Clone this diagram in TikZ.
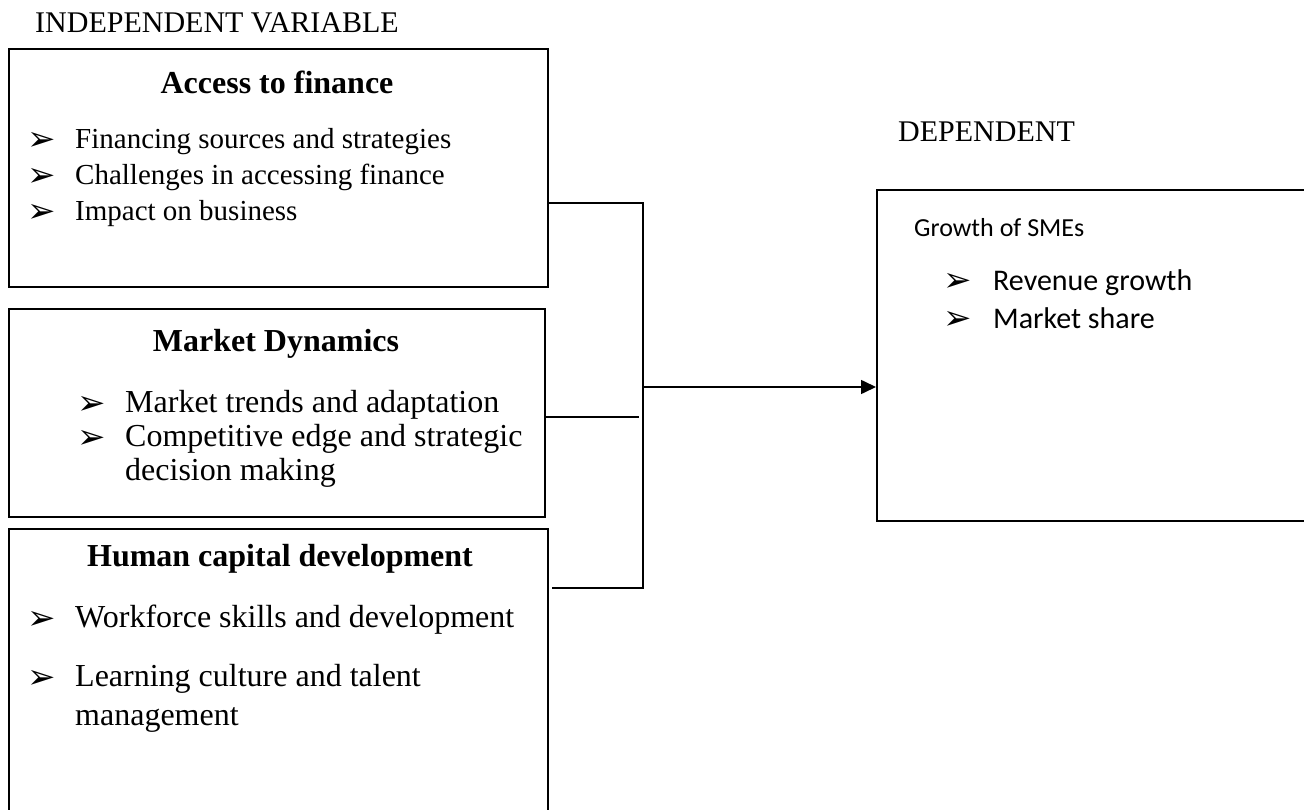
\documentclass[tikz,border=0pt]{standalone}
\usepackage{fontspec}
\setmainfont{Liberation Serif}
\newfontfamily\calibrifont{Carlito}
\newfontfamily\dingfont{DejaVu Sans}
\usetikzlibrary{arrows.meta, positioning}

\newcommand{\arrowbullet}{{\dingfont\char"27A2}}

\begin{document}
\begin{tikzpicture}[x=1pt, y=-1pt, >={Triangle[length=15pt, width=14pt]},
  varbox/.style={draw, line width=1.6pt, inner sep=0pt, anchor=north west},
  title/.style={font=\fontsize{30}{36}\selectfont, anchor=base west, inner sep=0pt},
  head/.style={font=\fontsize{32}{36}\selectfont\bfseries, anchor=base, inner sep=0pt},
  item/.style={font=\fontsize{32}{36}\selectfont, anchor=base west, inner sep=0pt},
  bul/.style={font=\fontsize{34}{36}\selectfont, anchor=base west, inner sep=0pt},
  citem/.style={font=\fontsize{30}{34}\selectfont\calibrifont, anchor=base west, inner sep=0pt},
  link/.style={line width=1.6pt}]

      \clip (0,0) rectangle (1304,810);

      % Headings over the two sides
      \node[title] (indep) at (35,33) {INDEPENDENT VARIABLE};
      \node[title] (dep) at (898,142) {DEPENDENT};

      % Independent variable boxes
      \node[varbox, minimum width=539pt, minimum height=238pt] (finance) at (8,48) {};
      \node[varbox, minimum width=536pt, minimum height=208pt] (market) at (8,308) {};
      \node[varbox, minimum width=539pt, minimum height=310pt] (human) at (8,528) {};

      % Access to finance
      \node[head] (financehead) at (277,94) {Access to finance};
      \foreach \txt [count=\i] in {Financing sources and strategies,
          Challenges in accessing finance, Impact on business}
      {
        \node[bul] (financeb\i) at (27,115+36*\i) {\arrowbullet};
        \node[item, font=\fontsize{29}{34}\selectfont] (financei\i) at (75,113+36*\i) {\txt};
      }

      % Market Dynamics
      \node[head] (markethead) at (276,352) {Market Dynamics};
      \node[bul] (marketb1) at (77,414) {\arrowbullet};
      \node[item] (marketi1) at (125,412) {Market trends and adaptation};
      \node[bul] (marketb2) at (77,448) {\arrowbullet};
      \node[item] (marketi2) at (125,446) {Competitive edge and strategic};
      \node[item] (marketi3) at (125,480) {decision making};

      % Human capital development
      \node[head] (humanhead) at (280,566) {Human capital development};
      \node[bul] (humanb1) at (27,629) {\arrowbullet};
      \node[item] (humani1) at (75,627) {Workforce skills and development};
      \node[bul] (humanb2) at (27,688) {\arrowbullet};
      \node[item] (humani2) at (75,686) {Learning culture and talent};
      \node[item] (humani3) at (75,725) {management};

      % Dependent variable box
      \node[varbox, minimum width=450pt, minimum height=331pt] (growth) at (876,189) {};
      \node[citem, font=\fontsize{26}{30}\selectfont\calibrifont] (growthhead) at (914,237) {Growth of SMEs};
      \node[bul] (growthb1) at (943,292) {\arrowbullet};
      \node[citem] (growthi1) at (993,291) {Revenue growth};
      \node[bul] (growthb2) at (943,330) {\arrowbullet};
      \node[citem] (growthi2) at (993,329) {Market share};

      % Bracket joining the three boxes
      \coordinate (bustop) at (643,203);
      \coordinate (busbot) at (643,588);
      \coordinate (busmid) at (639,417);
      \coordinate (busout) at (643,387);
      \draw[link] (finance.east |- bustop) -- (bustop) -- (busbot)
        -- ([xshift=3pt]human.east |- busbot);
      \draw[link] (market.east |- busmid) -- (busmid);

      % Arrow to the dependent variable
      \draw[link, ->] (busout) -- (growth.west |- busout);

    \end{tikzpicture}
\end{document}
